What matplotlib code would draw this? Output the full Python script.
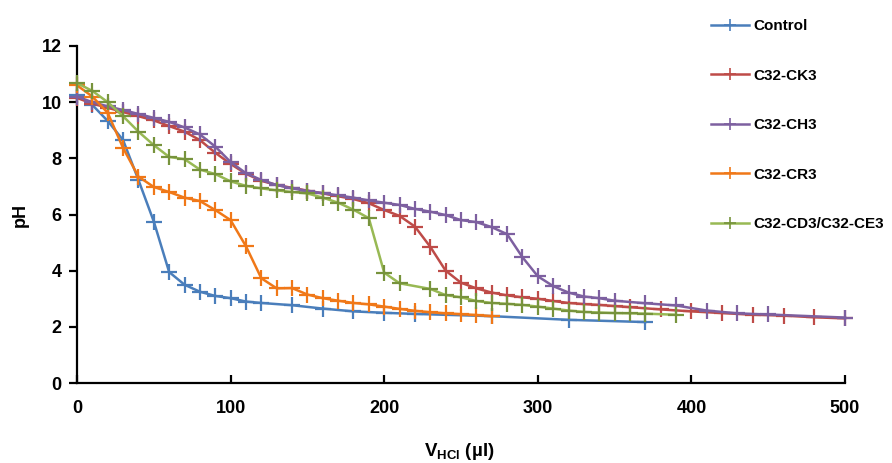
import matplotlib
matplotlib.use("Agg")
import matplotlib.pyplot as plt

plt.rcParams['font.family'] = ['Liberation Sans', 'DejaVu Sans']
plt.rcParams['mathtext.fontset'] = 'custom'
plt.rcParams['mathtext.rm'] = 'Liberation Sans:bold'
plt.rcParams['mathtext.bf'] = 'Liberation Sans:bold'

labels = ["Control", "C32-CK3", "C32-CH3", "C32-CR3", "C32-CD3/C32-CE3"]

control_x = [0, 10, 20, 30, 40, 50, 60, 70, 80, 90, 100, 110, 120, 140, 160, 180, 200, 220, 270, 320, 370]
control_y = [10.25, 9.9, 9.33, 8.65, 7.23, 5.75, 3.95, 3.5, 3.25, 3.1, 3.02, 2.9, 2.85, 2.77, 2.65, 2.55, 2.5, 2.46, 2.38, 2.25, 2.17]

ck3_x = [0, 10, 20, 30, 40, 50, 60, 70, 80, 90, 100, 110, 120, 130, 140, 150, 160, 170, 180, 190, 200,
         210, 220, 230, 240, 250, 260, 270, 280, 290, 300, 310, 320, 330, 340, 350, 360,
         380, 400, 420, 440, 460, 480, 500]
ck3_y = [10.15, 9.95, 9.8, 9.65, 9.5, 9.35, 9.15, 8.95, 8.65, 8.2, 7.8, 7.45, 7.2, 7.05, 6.95, 6.85, 6.75, 6.65, 6.55, 6.4, 6.16,
         5.95, 5.57, 4.85, 4.0, 3.57, 3.37, 3.22, 3.12, 3.05, 3.0, 2.92, 2.85, 2.81, 2.78, 2.74, 2.7,
         2.62, 2.55, 2.49, 2.43, 2.4, 2.34, 2.3]

ch3_x = [0, 10, 20, 30, 40, 50, 60, 70, 80, 90, 100, 110, 120, 130, 140, 150, 160, 170, 180, 190, 200,
         210, 220, 230, 240, 250, 260, 270, 280, 290, 300, 310, 320, 330, 340, 350,
         370, 390, 410, 430, 450, 500]
ch3_y = [10.2, 10.0, 9.85, 9.72, 9.58, 9.44, 9.3, 9.1, 8.85, 8.42, 7.87, 7.47, 7.23, 7.05, 6.93, 6.84, 6.76, 6.68, 6.6, 6.5, 6.42,
         6.34, 6.2, 6.1, 5.98, 5.8, 5.73, 5.55, 5.3, 4.48, 3.8, 3.45, 3.22, 3.08, 3.02, 2.93,
         2.84, 2.76, 2.58, 2.48, 2.44, 2.33]

cr3_x = [0, 10, 20, 30, 40, 50, 60, 70, 80, 90, 100, 110, 120, 130, 140, 150, 160, 170, 180, 190, 200,
         210, 220, 230, 240, 250, 260, 270]
cr3_y = [10.6, 10.2, 9.62, 8.37, 7.35, 6.98, 6.8, 6.6, 6.48, 6.16, 5.8, 4.87, 3.73, 3.37, 3.38, 3.15, 3.02, 2.93, 2.85, 2.8, 2.72,
         2.64, 2.57, 2.52, 2.48, 2.45, 2.42, 2.38]

cd3_x = [0, 10, 20, 30, 40, 50, 60, 70, 80, 90, 100, 110, 120, 130, 140, 150, 160, 170, 180, 190, 200,
         210, 230, 240, 250, 260, 270, 280, 290, 300, 310, 320, 330, 340, 350, 360, 370, 390]
cd3_y = [10.68, 10.4, 10.0, 9.5, 8.95, 8.47, 8.05, 7.97, 7.6, 7.44, 7.18, 7.02, 6.93, 6.86, 6.8, 6.75, 6.6, 6.42, 6.17, 5.87, 3.93,
         3.55, 3.35, 3.13, 3.05, 2.92, 2.85, 2.82, 2.78, 2.72, 2.65, 2.58, 2.53, 2.51, 2.49, 2.48, 2.47, 2.43]

xs = [control_x, ck3_x, ch3_x, cr3_x, cd3_x]
ys = [control_y, ck3_y, ch3_y, cr3_y, cd3_y]
line_colors = ["#4A7EBB", "#BE4B48", "#7D60A0", "#F07818", "#98B954"]
mark_colors = ["#4A7EBB", "#BE4B48", "#7D60A0", "#F07818", "#77933C"]

xticks = [0, 100, 200, 300, 400, 500]
yticks = [0, 2, 4, 6, 8, 10, 12]

fig = plt.figure(figsize=(8.92, 4.63), dpi=100)
ax = fig.add_axes([77/892, 1 - 383/463, (845 - 77)/892, (383 - 46)/463])

for i in range(5):
    ax.plot(xs[i], ys[i], color=line_colors[i], lw=1.8, marker='+', ms=12,
            mew=1.6, mec=mark_colors[i], label=labels[i], zorder=3 + i, clip_on=False)

ax.set_xlim(0, 500)
ax.set_ylim(0, 12)
ax.set_xticks(xticks)
ax.set_yticks(yticks)
for s in ['top', 'right']:
    ax.spines[s].set_visible(False)
for s in ['left', 'bottom']:
    ax.spines[s].set_linewidth(1.6)
ax.tick_params(axis='x', direction='in', length=6, width=1.6, pad=12, labelsize=13)
ax.tick_params(axis='y', direction='out', length=6, width=1.6, pad=5, labelsize=13)
for lab in ax.get_xticklabels() + ax.get_yticklabels():
    lab.set_fontweight('bold')

fig.text(459/892, 1 - 451/463, r'$\mathbf{V_{HCl}}$ (µl)', ha='center', va='center',
         fontsize=13.5, fontweight='bold')
fig.text(20/892, 1 - 215/463, 'pH', ha='center', va='center', rotation=90,
         fontsize=13, fontweight='bold')

leg = ax.legend(loc='upper left', bbox_to_anchor=(711/892, 1 - 19/463),
                bbox_transform=fig.transFigure, frameon=False, borderpad=0,
                borderaxespad=0, handlelength=2.5, handletextpad=0.3,
                labelspacing=2.33, prop={'weight': 'bold', 'size': 11})
for h in leg.legend_handles:
    h.set_markersize(9)
    h.set_markeredgewidth(1.2)

fig.savefig('out.png', dpi=100)
